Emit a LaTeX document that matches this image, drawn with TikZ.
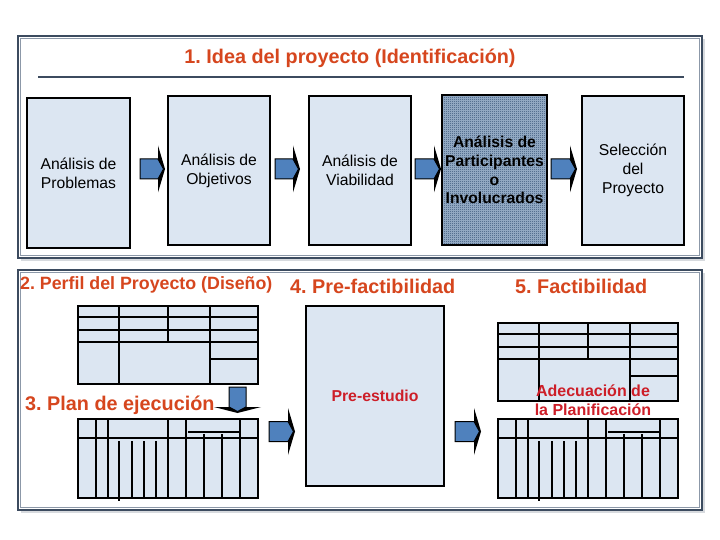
\documentclass[tikz,border=0pt]{standalone}
\usepackage{fontspec}
\setmainfont{Liberation Sans}
\usetikzlibrary{patterns}
\frenchspacing
\definecolor{boxfill}{RGB}{220,230,242}
\definecolor{framedark}{RGB}{60,75,95}
\definecolor{framegray}{RGB}{140,152,168}
\definecolor{shadowgray}{RGB}{215,218,222}
\definecolor{titlered}{RGB}{214,70,30}
\definecolor{textred}{RGB}{205,30,40}
\definecolor{arrowblue}{RGB}{79,129,189}
\definecolor{hatchdark}{RGB}{45,75,112}
\definecolor{hatchlight}{RGB}{160,182,206}
\pgfdeclarepatternformonly{checker}{\pgfpointorigin}{\pgfpoint{2pt}{2pt}}{\pgfpoint{2pt}{2pt}}{%
  \pgfpathrectangle{\pgfpointorigin}{\pgfpoint{1pt}{1pt}}%
  \pgfpathrectangle{\pgfpoint{1pt}{1pt}}{\pgfpoint{1pt}{1pt}}%
  \pgfusepath{fill}}
\newcommand\harrow[3]{%
  \fill[black] (#2-7,#3-10) -- (#2-7,#3-23.5) -- (#2,#3) -- (#2-7,#3+23.5) -- (#2-7,#3+10) -- cycle;
  \draw[line width=1pt, fill=arrowblue] (#1,#3-10) -- (#2-7,#3-10) -- (#2-1.5,#3) -- (#2-7,#3+10) -- (#1,#3+10) -- cycle;}
\newcommand\varrow[3]{%
  \fill[black] (#1-8.5,#3-6) -- (#1-23.5,#3-6) -- (#1,#3) -- (#1+23.5,#3-6) -- (#1+8.5,#3-6) -- cycle;
  \draw[line width=1pt, fill=arrowblue] (#1-8.5,#2) -- (#1-8.5,#3-6) -- (#1,#3-1.5) -- (#1+8.5,#3-6) -- (#1+8.5,#2) -- cycle;}
\tikzset{
  frame/.style={fill=white, draw=framedark, line width=2.5pt},
  frameinner/.style={draw=framegray, line width=1.2pt},
  stagebox/.style={draw=black, line width=2pt, fill=boxfill, minimum width=102pt,
    minimum height=149pt, align=center, inner sep=0pt,
    font=\fontsize{15.7}{19}\selectfont},
  tablebox/.style={draw=black, line width=2.2pt, fill=boxfill},
  tableline/.style={draw=black, line width=2.2pt},
  bigtitle/.style={text=titlered, inner sep=0pt, font=\bfseries\fontsize{19.8}{23}\selectfont},
  profiletable/.pic={
    \filldraw[tablebox] (0,0) rectangle (180,78);
    \draw[tableline] (0,11)--(180,11) (0,24)--(180,24) (0,36)--(180,36)
      (41,0)--(41,78) (90,0)--(90,36) (132,0)--(132,78) (132,53)--(180,53);
  },
  plantable/.pic={
    \filldraw[tablebox] (0,0) rectangle (180,79);
    \draw[tableline] (0,19)--(180,19)
      (18,0)--(18,79) (30,0)--(30,79) (41,22)--(41,82) (54,22)--(54,79)
      (66,22)--(66,79) (78,22)--(78,79) (90,0)--(90,79) (108,0)--(108,79)
      (126,15)--(126,79) (144,15)--(144,79) (162,0)--(162,79) (110,13)--(162,13);
  }
}
\begin{document}
\begin{tikzpicture}[x=1pt,y=-1pt]
\useasboundingbox (0,0) rectangle (720,540);
\fill[white] (0,0) rectangle (720,540);
% frames
\fill[shadowgray] (21,39) rectangle (705,261);
\filldraw[frame] (18,36) rectangle (702,258);
\draw[frameinner] (20.5,38.5) rectangle (699.5,255.5);
\fill[shadowgray] (21,273) rectangle (705,513);
\filldraw[frame] (18,270) rectangle (702,510);
\draw[frameinner] (20.5,272.5) rectangle (699.5,507.5);
% title 1
\node[bigtitle] (t1) at (350,58) {1. Idea del proyecto (Identificación)};
\draw[framedark, line width=1.5pt] (38,77) -- (684,77);
% stage boxes
\node[stagebox, minimum width=103pt, minimum height=150pt] (prob) at (78.5,173) {Análisis de\\Problemas};
\node[stagebox] (obj) at (219,170.5) {Análisis de\\Objetivos};
\node[stagebox] (via) at (360,170.5) {Análisis de\\Viabilidad};
\node[stagebox, draw=none, fill=hatchlight, minimum width=103pt, minimum height=148pt] (part) at (494.5,170) {};
\fill[pattern=checker, pattern color=hatchdark] (part.south west) rectangle (part.north east);
\draw[black, line width=2pt] (part.south west) rectangle (part.north east);
\node[align=center, inner sep=0pt, font=\bfseries\fontsize{15.7}{18.7}\selectfont] (parttext) at (part.center) {Análisis de\\Participantes\\o\\Involucrados};
\node[stagebox] (sel) at (633,170.5) {Selección\\del\\Proyecto};
% arrows top
\harrow{140}{165}{169}
\harrow{275}{300}{169}
\harrow{415}{441}{169}
\harrow{551}{577}{169}
% lower titles
\node[bigtitle, anchor=west, font=\bfseries\fontsize{17.8}{21}\selectfont] (t2) at (20,285) {2. Perfil del Proyecto (Diseño)};
\node[bigtitle, anchor=west] (t4) at (290,286) {4. Pre-factibilidad};
\node[bigtitle, anchor=west] (t5) at (515,286) {5. Factibilidad};
\node[bigtitle, anchor=west] (t3) at (25,405) {3. Plan de ejecución};
% tables
\pic at (78,306) {profiletable};
\pic at (78,419) {plantable};
\pic at (498,323) {profiletable};
\pic at (498,419) {plantable};
% pre-estudio
\node[stagebox, minimum width=138pt, minimum height=180pt, text=textred, font=\bfseries\fontsize{15.8}{19}\selectfont] (pre) at (375,396) {Pre-estudio};
\node[text=textred, align=center, inner sep=0pt, font=\bfseries\fontsize{16}{19}\selectfont] (adec) at (593,400.5) {Adecuación de\\la Planificación};
% arrows bottom
\varrow{237.5}{387}{413}
\harrow{269}{295}{431.5}
\harrow{455}{481}{431.5}
\end{tikzpicture}
\end{document}
